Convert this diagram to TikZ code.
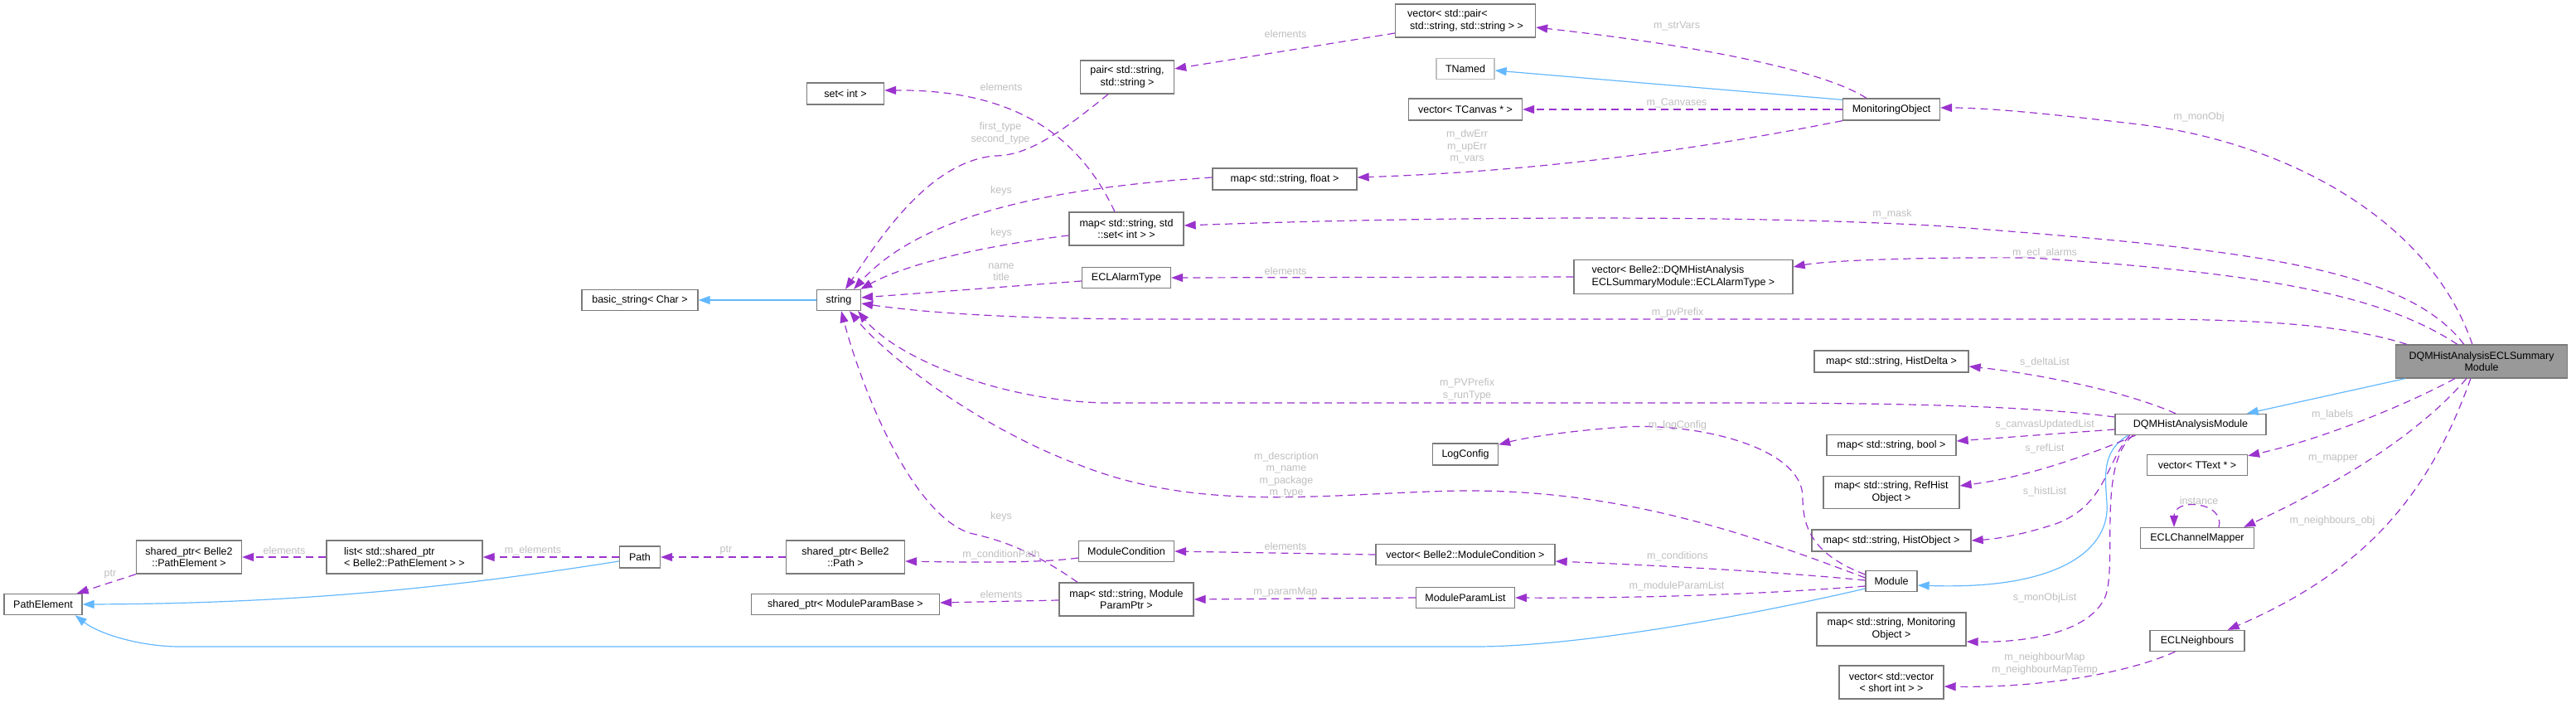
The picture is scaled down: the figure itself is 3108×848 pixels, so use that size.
\documentclass[tikz,border=0pt]{standalone}
\usepackage{fontspec}
\setmainfont{Liberation Sans}
\usetikzlibrary{arrows.meta}
\definecolor{boxgray}{HTML}{7A7A7A}
\definecolor{lightbox}{HTML}{C0C0C0}
\definecolor{usecol}{HTML}{9A32CD}
\definecolor{inhcol}{HTML}{63B8FF}
\definecolor{lblcol}{HTML}{BEBEBE}
\definecolor{sumfill}{HTML}{999999}
\newcommand{\nodefont}{\fontsize{12.5}{14.5}\selectfont}
\tikzset{
  box/.style={draw=boxgray, line width=1.3pt, fill=white, inner sep=0pt, font=\nodefont, align=center, text=black},
  use/.style={draw=usecol, line width=1.2pt, dash pattern=on 9pt off 6pt, -{Triangle[length=14pt,width=10pt]}},
  inh/.style={draw=inhcol, line width=1.2pt, -{Triangle[length=14pt,width=10pt]}},
  lbl/.style={text=lblcol, font=\nodefont, align=center, inner sep=0pt}
}
\begin{document}
\begin{tikzpicture}[x=1pt,y=-1pt]
\useasboundingbox (0,0) rectangle (3108,848);
% nodes
\node[box, minimum width=140pt, minimum height=25pt] (bstr) at (772,362) {basic\_string< Char >};
\node[box, minimum width=53pt, minimum height=25pt] (str) at (1012,362) {string};
\node[box, minimum width=93pt, minimum height=26pt] (setint) at (1020,113) {set< int >};
\node[box, minimum width=113pt, minimum height=40pt] (pair) at (1360,93) {pair< std::string,\\std::string >};
\node[box, minimum width=138pt, minimum height=40pt] (mapset) at (1359,276) {map< std::string, std\\::set< int > >};
\node[box, minimum width=107pt, minimum height=25pt] (alarm) at (1359,335) {ECLAlarmType};
\node[box, minimum width=174pt, minimum height=26pt] (mapfloat) at (1550,216) {map< std::string, float >};
\node[box, minimum width=169pt, minimum height=40pt, align=left] (vecpair) at (1768,25) {vector< std::pair<\\\hspace{3pt}std::string, std::string > >};
\node[box, draw=lightbox, minimum width=70pt, minimum height=25pt] (tnamed) at (1768,83) {TNamed};
\node[box, minimum width=137pt, minimum height=26pt] (vecanvas) at (1768,132) {vector< TCanvas * >};
\node[box, minimum width=264pt, minimum height=41pt, align=left] (vecalarm) at (2031,334) {vector< Belle2::DQMHistAnalysis\\ECLSummaryModule::ECLAlarmType >};
\node[box, minimum width=117pt, minimum height=26pt] (monobj) at (2282,132) {MonitoringObject};
\node[box, minimum width=186pt, minimum height=26pt] (maphd) at (2282,436) {map< std::string, HistDelta >};
\node[box, minimum width=182pt, minimum height=25pt] (dqmham) at (2643,512) {DQMHistAnalysisModule};
\node[box, minimum width=156pt, minimum height=25pt] (mapbool) at (2282,537) {map< std::string, bool >};
\node[box, minimum width=164pt, minimum height=39pt] (mapref) at (2282,594) {map< std::string, RefHist\\Object >};
\node[box, minimum width=192pt, minimum height=26pt] (maphist) at (2282,652) {map< std::string, HistObject >};
\node[box, minimum width=62pt, minimum height=25pt] (module) at (2282,701) {Module};
\node[box, minimum width=180pt, minimum height=40pt] (mapmon) at (2282,759) {map< std::string, Monitoring\\Object >};
\node[box, minimum width=126pt, minimum height=40pt] (vecvec) at (2282,823) {vector< std::vector\\< short int > >};
\node[box, fill=sumfill, draw=boxgray, minimum width=207pt, minimum height=40pt] (summary) at (2994,436) {DQMHistAnalysisECLSummary\\Module};
\node[box, minimum width=121pt, minimum height=25pt] (vectext) at (2651,561) {vector< TText * >};
\node[box, minimum width=137pt, minimum height=25pt] (mapper) at (2651,649) {ECLChannelMapper};
\node[box, minimum width=114pt, minimum height=25pt] (neigh) at (2651,773) {ECLNeighbours};
\node[box, minimum width=79pt, minimum height=26pt] (logcfg) at (1768,548) {LogConfig};
\node[box, minimum width=216pt, minimum height=25pt] (veccond) at (1768,669) {vector< Belle2::ModuleCondition >};
\node[box, minimum width=119pt, minimum height=25pt] (mplist) at (1768,721) {ModuleParamList};
\node[box, minimum width=115pt, minimum height=25pt] (modcond) at (1359,665) {ModuleCondition};
\node[box, minimum width=162pt, minimum height=40pt] (mapparam) at (1359,723) {map< std::string, Module\\ParamPtr >};
\node[box, minimum width=143pt, minimum height=40pt] (spath) at (1020,672) {shared\_ptr< Belle2\\::Path >};
\node[box, minimum width=227pt, minimum height=25pt] (spbase) at (1020,729) {shared\_ptr< ModuleParamBase >};
\node[box, minimum width=49pt, minimum height=26pt] (path) at (772,672) {Path};
\node[box, minimum width=188pt, minimum height=40pt, align=left] (list) at (488,672) {list< std::shared\_ptr\\< Belle2::PathElement > >};
\node[box, minimum width=127pt, minimum height=40pt] (spelem) at (228,672) {shared\_ptr< Belle2\\::PathElement >};
\node[box, minimum width=94pt, minimum height=25pt] (pathel) at (52,729) {PathElement};

% inheritance
\draw[inh] (str.west) -- (bstr.east);
\draw[inh] ([yshift=-2pt]monobj.north west) -- ([yshift=-2pt]tnamed.east);
\draw[inh] ([xshift=12pt]summary.south west) -- ([xshift=-24pt]dqmham.north east);
\draw[inh] ([xshift=16pt]dqmham.south west) .. controls (2535,545) and (2540,575) .. (2542,607) .. controls (2546,660) and (2490,712) .. ([yshift=-5pt]module.east);
\draw[inh] ([yshift=-9pt]module.west) .. controls (2100,745) and (1900,780) .. (1780,780) -- (217,780) .. controls (170,780) and (120,765) .. ([xshift=-9pt]pathel.south east);
\draw[inh] ([yshift=-5pt]path.west) .. controls (600,700) and (400,728) .. (pathel.east);

% usage
\draw[use] ([yshift=-15pt]vecpair.west) -- ([yshift=10pt]pair.east);
\draw[use] ([xshift=-23pt]pair.south) .. controls (1280,160) and (1240,188) .. (1200,188) .. controls (1120,195) and (1060,290) .. ([xshift=8pt]str.north);
\draw[use] ([xshift=-14pt]mapset.north) .. controls (1300,160) and (1220,108) .. ([yshift=4pt]setint.east);
\draw[use] ([yshift=2pt]mapfloat.west) .. controls (1300,225) and (1120,250) .. ([xshift=-9pt]str.north east);
\draw[use] ([yshift=-8pt]mapset.west) .. controls (1200,295) and (1100,315) .. ([xshift=-1pt]str.north east);
\draw[use] ([yshift=-4pt]alarm.west) -- ([yshift=3pt]str.east);
\draw[use] (vecalarm.west) -- (alarm.east);
\draw[use] ([xshift=14pt]summary.north west) .. controls (2840,395) and (2750,385) .. (2580,385) -- (1400,385) .. controls (1200,385) and (1100,375) .. ([yshift=-4pt]str.east);
\draw[use] ([xshift=75pt]summary.north west) .. controls (2880,360) and (2750,330) .. (2450,311) .. controls (2300,310) and (2200,315) .. ([yshift=12pt]vecalarm.east);
\draw[use] ([xshift=83pt]summary.north west) .. controls (2900,320) and (2700,300) .. (2347,273) .. controls (2100,258) and (1700,262) .. ([yshift=4pt]mapset.east);
\draw[use] ([xshift=93pt]summary.north west) .. controls (2930,260) and (2750,170) .. (2580,150) .. controls (2480,138) and (2400,130) .. ([yshift=2pt]monobj.east);
\draw[use] ([xshift=29pt]monobj.north west) .. controls (2200,85) and (2050,55) .. ([yshift=-8pt]vecpair.east);
\draw[use] (monobj.west) -- (vecanvas.east);
\draw[use] (monobj.south west) .. controls (2100,170) and (1900,205) .. ([yshift=2pt]mapfloat.east);
\draw[use] ([yshift=9pt]dqmham.west) .. controls (2450,490) and (2300,486) .. (2080,486) -- (1330,486) .. controls (1200,482) and (1080,430) .. ([xshift=23pt]str.south);
\draw[use] ([yshift=4pt]module.west) .. controls (2100,640) and (1950,590) .. (1760,592) .. controls (1600,595) and (1450,620) .. (1300,560) .. controls (1180,515) and (1070,430) .. ([xshift=13pt]str.south);
\draw[use] ([xshift=-59pt]mapparam.north) .. controls (1240,660) and (1200,650) .. (1170,643) .. controls (1100,620) and (1040,470) .. ([xshift=3pt]str.south);
\draw[use] ([yshift=8pt]module.west) .. controls (2190,670) and (2175,640) .. (2175,600) .. controls (2175,540) and (2050,510) .. (1960,515) .. controls (1890,520) and (1840,528) .. ([yshift=-2pt]logcfg.north east);
\draw[use] ([yshift=1pt]module.west) .. controls (2150,690) and (2000,682) .. ([yshift=-8pt]veccond.east);
\draw[use] ([yshift=-6pt]module.west) .. controls (2150,715) and (2000,722) .. (mplist.east);
\draw[use] (veccond.west) -- (modcond.east);
\draw[use] (mplist.west) -- (mapparam.east);
\draw[use] ([yshift=-8pt]modcond.west) .. controls (1250,680) and (1150,678) .. ([yshift=-5pt]spath.east);
\draw[use] ([yshift=-1pt]mapparam.west) -- ([yshift=2pt]spbase.east);
\draw[use] (spath.west) -- (path.east);
\draw[use] (path.west) -- (list.east);
\draw[use] (list.west) -- (spelem.east);
\draw[use] (spelem.south west) -- ([xshift=-7pt]pathel.north east);
\draw[use] ([xshift=-18pt]dqmham.north) .. controls (2560,470) and (2450,450) .. ([yshift=-6pt]maphd.east);
\draw[use] ([yshift=-6pt]dqmham.west) -- ([yshift=5pt]mapbool.east);
\draw[use] ([xshift=25pt]dqmham.south west) .. controls (2530,545) and (2450,575) .. ([yshift=8pt]mapref.east);
\draw[use] ([xshift=18pt]dqmham.south west) .. controls (2540,560) and (2540,610) .. (2480,632) .. controls (2440,645) and (2410,650) .. (maphist.east);
\draw[use] ([xshift=22pt]dqmham.south west) .. controls (2530,560) and (2555,680) .. (2540,720) .. controls (2520,765) and (2440,775) .. ([yshift=-15pt]mapmon.east);
\draw[use] ([xshift=72pt]summary.south west) .. controls (2900,490) and (2800,530) .. ([yshift=-2pt]vectext.north east);
\draw[use] ([xshift=86pt]summary.south west) .. controls (2930,510) and (2850,570) .. ([xshift=-13pt]mapper.north east);
\draw[use] ([xshift=91pt]summary.south west) .. controls (2930,600) and (2850,690) .. ([xshift=-21pt]neigh.north east);
\draw[use] ([xshift=26pt]mapper.north) .. controls (2685,605) and (2623,600) .. ([xshift=-28pt]mapper.north);
\draw[use] ([xshift=31pt]neigh.south west) .. controls (2560,815) and (2450,830) .. ([yshift=-5pt]vecvec.east);

% labels
\node[lbl] (l1) at (1551,41) {elements};
\node[lbl] (l2) at (1207,161) {first\_type\\second\_type};
\node[lbl] (l3) at (1208,105) {elements};
\node[lbl] (l4) at (1208,230) {keys};
\node[lbl] (l5) at (1208,281) {keys};
\node[lbl] (l6) at (1208,328) {name\\title};
\node[lbl] (l7) at (1551,327) {elements};
\node[lbl] (l8) at (2023,31) {m\_strVars};
\node[lbl] (l9) at (2023,124) {m\_Canvases};
\node[lbl] (l10) at (1770,177) {m\_dwErr\\m\_upErr\\m\_vars};
\node[lbl] (l11) at (2653,141) {m\_monObj};
\node[lbl] (l12) at (2283,258) {m\_mask};
\node[lbl] (l13) at (2467,305) {m\_ecl\_alarms};
\node[lbl] (l14) at (2024,377) {m\_pvPrefix};
\node[lbl] (l15) at (1770,470) {m\_PVPrefix\\s\_runType};
\node[lbl] (l16) at (2467,437) {s\_deltaList};
\node[lbl] (l17) at (2467,512) {s\_canvasUpdatedList};
\node[lbl] (l18) at (2467,541) {s\_refList};
\node[lbl] (l19) at (2467,593) {s\_histList};
\node[lbl] (l20) at (2467,721) {s\_monObjList};
\node[lbl] (l21) at (2467,801) {m\_neighbourMap\\m\_neighbourMapTemp};
\node[lbl] (l22) at (1552,573) {m\_description\\m\_name\\m\_package\\m\_type};
\node[lbl] (l23) at (2024,513) {m\_logConfig};
\node[lbl] (l24) at (2024,671) {m\_conditions};
\node[lbl] (l25) at (2023,707) {m\_moduleParamList};
\node[lbl] (l26) at (1551,659) {elements};
\node[lbl] (l27) at (1551,714) {m\_paramMap};
\node[lbl] (l28) at (1208,623) {keys};
\node[lbl] (l29) at (1208,669) {m\_conditionPath};
\node[lbl] (l30) at (1208,717) {elements};
\node[lbl] (l31) at (876,664) {ptr};
\node[lbl] (l32) at (643,664) {m\_elements};
\node[lbl] (l33) at (343,664) {elements};
\node[lbl] (l34) at (133,693) {ptr};
\node[lbl] (l35) at (2814,500) {m\_labels};
\node[lbl] (l36) at (2815,553) {m\_mapper};
\node[lbl] (l37) at (2653,604) {instance};
\node[lbl] (l38) at (2814,628) {m\_neighbours\_obj};
\end{tikzpicture}
\end{document}
